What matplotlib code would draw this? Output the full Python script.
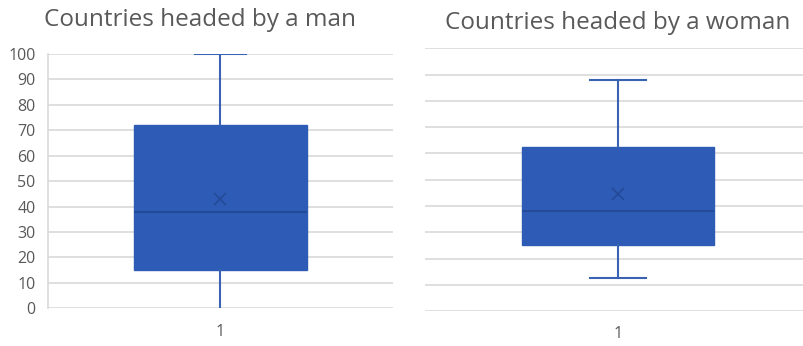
import matplotlib
matplotlib.use("Agg")
import matplotlib.pyplot as plt

titles = ["Countries headed by a man", "Countries headed by a woman"]
category_labels = ["1"]
# stats: min, q1, median, q3, max, mean
man_stats = [0, 15, 38, 72, 100, 43]
woman_stats = [12.5, 25, 38, 62.5, 88, 44.5]
y_ticks = [0, 10, 20, 30, 40, 50, 60, 70, 80, 90, 100]

box_color = "#2E5BB5"
line_color = "#3A62B3"
median_color = "#244A9A"
grid_color = "#D9D9D9"
text_color = "#595959"

plt.rcParams['font.family'] = ['Open Sans', 'DejaVu Sans']

fig = plt.figure(figsize=(8.04, 3.46), dpi=100)
ax1 = fig.add_axes([0.0597, 0.109, 0.429, 0.735])
ax2 = fig.add_axes([0.529, 0.101, 0.470, 0.759])

def stats_dict(s, label):
    return dict(whislo=s[0], q1=s[1], med=s[2], q3=s[3], whishi=s[4], mean=s[5], label=label, fliers=[])

panels = [(ax1, man_stats, titles[0], True, (0.5, 1.5), 0.5, (200, 20)),
          (ax2, woman_stats, titles[1], False, (0.49, 1.49), 0.51, (618, 23))]
for ax, s, title, show_y, xl, w, tpos in panels:
    res = ax.bxp([stats_dict(s, category_labels[0])], positions=[1], widths=w,
           patch_artist=True, showmeans=True, showfliers=False,
           boxprops=dict(facecolor=box_color, edgecolor=box_color, linewidth=1),
           whiskerprops=dict(color=line_color, linewidth=1.5),
           capprops=dict(color=line_color, linewidth=1.5),
           medianprops=dict(color=median_color, linewidth=1.5),
           meanprops=dict(marker="x", markeredgecolor=median_color, markersize=8, markeredgewidth=1.3),
           capwidths=0.15, zorder=3)
    if show_y:
        # lower cap sits on the axis baseline and is not visible in the reference
        res["caps"][0].set_visible(False)
    ax.set_xlim(*xl)
    ax.set_ylim(0, 100)
    ax.set_yticks(y_ticks)
    ax.yaxis.grid(True, color=grid_color, linewidth=1.2, zorder=0)
    ax.set_axisbelow(True)
    for sp in ax.spines.values():
        sp.set_visible(False)
    ax.tick_params(axis="both", length=0, colors=text_color, labelsize=11.5)
    ax.tick_params(axis="x", pad=11)
    ax.tick_params(axis="y", pad=9)
    if show_y:
        ax.spines["left"].set_visible(True)
        ax.spines["left"].set_color(grid_color)
        ax.spines["left"].set_linewidth(1.2)
    else:
        ax.set_yticklabels([])
    fig.text(tpos[0] / 804, 1 - tpos[1] / 346, title, fontsize=17.5, color=text_color,
             ha="center", va="center")

fig.savefig("out.png", dpi=100, facecolor="white")
